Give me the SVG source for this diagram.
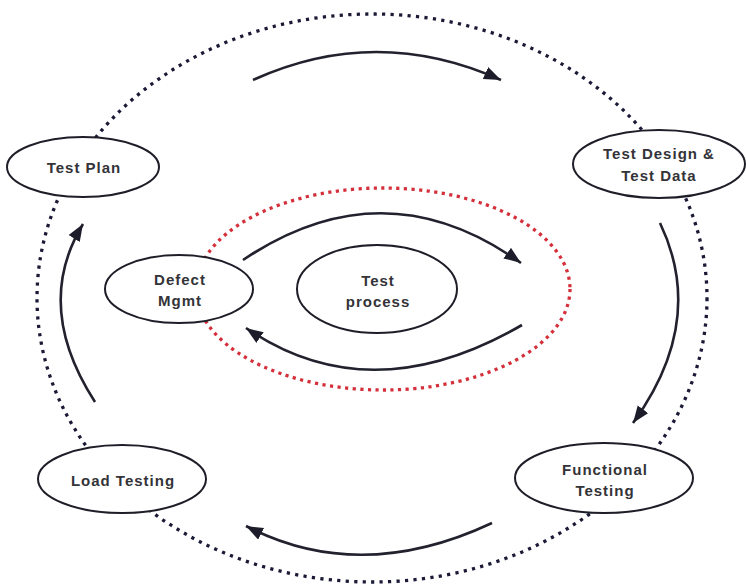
<svg xmlns="http://www.w3.org/2000/svg" width="746" height="584" viewBox="0 0 746 584">
<style>
.node ellipse { fill: #ffffff; stroke: #1e1e28; stroke-width: 2; }
.node text { font-family: "Liberation Sans", Arial, sans-serif; font-size: 15px; font-weight: bold; fill: #333338; text-anchor: middle; letter-spacing: 1px; }
.conn path { fill: none; stroke: #22222f; stroke-width: 2.6; marker-end: url(#ah); }
.outer { fill: none; stroke: #1a1a36; stroke-width: 3.3; stroke-dasharray: 3.2 5.3; }
.inner { fill: none; stroke: #d4303c; stroke-width: 3.3; stroke-dasharray: 3.2 4.4; }
</style>
<defs>
<marker id="ah" markerUnits="userSpaceOnUse" markerWidth="20" markerHeight="16" refX="17" refY="6.5" orient="auto">
<path d="M0,0 L17,6.5 L0,13 z" fill="#1c1c2a"/>
</marker>
</defs>
<rect width="746" height="584" fill="#ffffff"/>
<ellipse class="outer" cx="372" cy="298" rx="335" ry="284"/>
<ellipse class="inner" cx="383" cy="289" rx="187" ry="101"/>
<g id="connectors" class="conn">
<path d="M253,80 Q376,24 501,80"/>
<path d="M660,223 Q707,321 633,423"/>
<path d="M492,523 Q360,585 246,526"/>
<path d="M95,402 Q33,306 83,224"/>
<path d="M243,260 Q384,165 521,263"/>
<path d="M522,325 Q370,413 246,328"/>
</g>
<g id="test-plan" class="node">
<ellipse cx="83" cy="167" rx="76" ry="30"/>
<text x="84" y="173">Test Plan</text>
</g>
<g id="test-design" class="node">
<ellipse cx="659" cy="164" rx="86" ry="34"/>
<text x="659" y="159">Test Design &amp;</text>
<text x="659" y="181">Test Data</text>
</g>
<g id="functional-testing" class="node">
<ellipse cx="604" cy="478" rx="89" ry="35"/>
<text x="605" y="475">Functional</text>
<text x="605" y="496">Testing</text>
</g>
<g id="load-testing" class="node">
<ellipse cx="122" cy="479" rx="84" ry="34"/>
<text x="123" y="486">Load Testing</text>
</g>
<g id="defect-mgmt" class="node">
<ellipse cx="179" cy="289" rx="74" ry="34"/>
<text x="180" y="285">Defect</text>
<text x="180" y="306">Mgmt</text>
</g>
<g id="test-process" class="node">
<ellipse cx="377" cy="289" rx="80" ry="44"/>
<text x="378" y="286">Test</text>
<text x="378" y="307">process</text>
</g>
</svg>
